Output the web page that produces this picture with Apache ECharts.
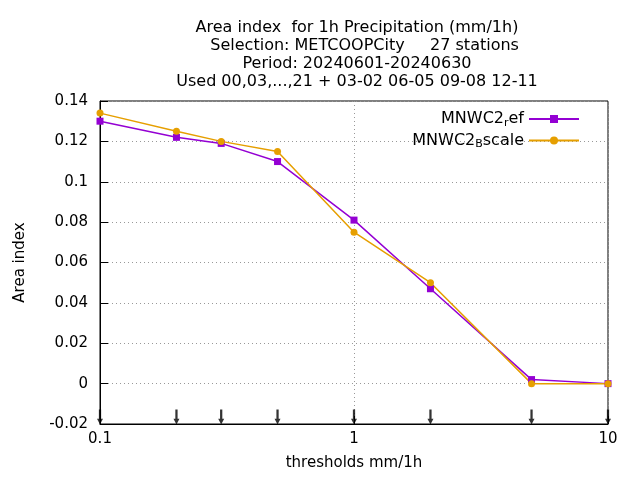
<!DOCTYPE html>
<html>
<head>
<meta charset="UTF-8">
<script src="https://cdn.jsdelivr.net/npm/echarts@6/dist/echarts.min.js"></script>
<style>html,body{margin:0;padding:0;background:#fff}</style>
</head>
<body>
<div id="chart" style="width:640px;height:480px;"></div>
<script>
// thresholds (mm/1h) and area index values
var thresholds = [0.1, 0.2, 0.3, 0.5, 1, 2, 5, 10];
var refValues = [0.130, 0.122, 0.119, 0.110, 0.081, 0.047, 0.002, 0.000];
var bscaleValues = [0.134, 0.125, 0.120, 0.115, 0.075, 0.050, 0.000, 0.000];
var arrowLevel = -0.0165;

var chart = echarts.init(document.getElementById('chart'));

function pairs(xs, ys) {
    return xs.map(function (x, i) { return [x, ys[i]]; });
}

var option = {
    animation: false,
    textStyle: { fontFamily: 'DejaVu Sans', color: '#000' },
    title: {
        text: 'Area index  for 1h Precipitation (mm/1h)\n   Selection: METCOOPCity     27 stations\nPeriod: 20240601-20240630\nUsed 00,03,...,21 + 03-02 06-05 09-08 12-11',
        left: 352, top: 14, textAlign: 'center',
        textStyle: { fontSize: 16, fontWeight: 'normal', lineHeight: 18, color: '#000' }
    },
    legend: {
        right: 55, top: 106, orient: 'vertical', align: 'right', itemGap: 4,
        itemWidth: 50, itemHeight: 10,
        textStyle: {
            fontSize: 16, color: '#000',
            rich: { sub: { fontSize: 11, verticalAlign: 'bottom', padding: [8, 0, 0, 0] }, t: { fontSize: 16 } }
        },
        formatter: function (name) {
            if (name === 'MNWC2_ref') return '{t|MNWC2}{sub|r}{t|ef}';
            return '{t|MNWC2}{sub|B}{t|scale}';
        },
        data: ['MNWC2_ref', 'MNWC2_Bscale']
    },
    grid: { left: 100, right: 32, top: 101, bottom: 56, show: true, borderColor: '#000', borderWidth: 1 },
    xAxis: {
        type: 'log', min: 0.1, max: 10, logBase: 10,
        name: 'thresholds mm/1h', nameLocation: 'middle', nameGap: 32,
        nameTextStyle: { fontSize: 15, color: '#000' },
        axisLine: { onZero: false, lineStyle: { color: '#000' } },
        axisTick: { inside: true, length: 8, lineStyle: { color: '#000' } },
        axisLabel: { fontSize: 15, color: '#000', formatter: function (v) { return String(parseFloat(v.toPrecision(3))); } },
        splitLine: { show: true, lineStyle: { color: '#999', type: [1, 3] } }
    },
    yAxis: {
        type: 'value', min: -0.02, max: 0.14, interval: 0.02,
        name: 'Area index', nameLocation: 'middle', nameGap: 72,
        nameTextStyle: { fontSize: 15, color: '#000' },
        axisLine: { show: true, onZero: false, lineStyle: { color: '#000' } },
        axisTick: { inside: true, length: 8, lineStyle: { color: '#000' } },
        axisLabel: { fontSize: 15, color: '#000', margin: 12, formatter: function (v) { return String(parseFloat(v.toFixed(2))); } },
        splitLine: { show: true, lineStyle: { color: '#999', type: [1, 3] } }
    },
    series: [
        {
            name: 'MNWC2_ref', type: 'line', data: pairs(thresholds, refValues),
            symbol: 'rect', symbolSize: 7,
            lineStyle: { color: '#9400d3', width: 1.5 }, itemStyle: { color: '#9400d3' }
        },
        {
            name: 'MNWC2_Bscale', type: 'line', data: pairs(thresholds, bscaleValues),
            symbol: 'circle', symbolSize: 7,
            lineStyle: { color: '#e69f00', width: 1.5 }, itemStyle: { color: '#e69f00' }
        },
        {
            name: 'arrows', type: 'scatter', silent: true,
            data: thresholds.map(function (x) { return [x, arrowLevel]; }),
            symbol: 'path://M3.5,0 L3.5,10 L1,10 L5,16 L9,10 L6.5,10 L6.5,0 Z',
            symbolSize: [6, 15], itemStyle: { color: '#000' }
        }
    ]
};
chart.setOption(option);
</script>
</body>
</html>
